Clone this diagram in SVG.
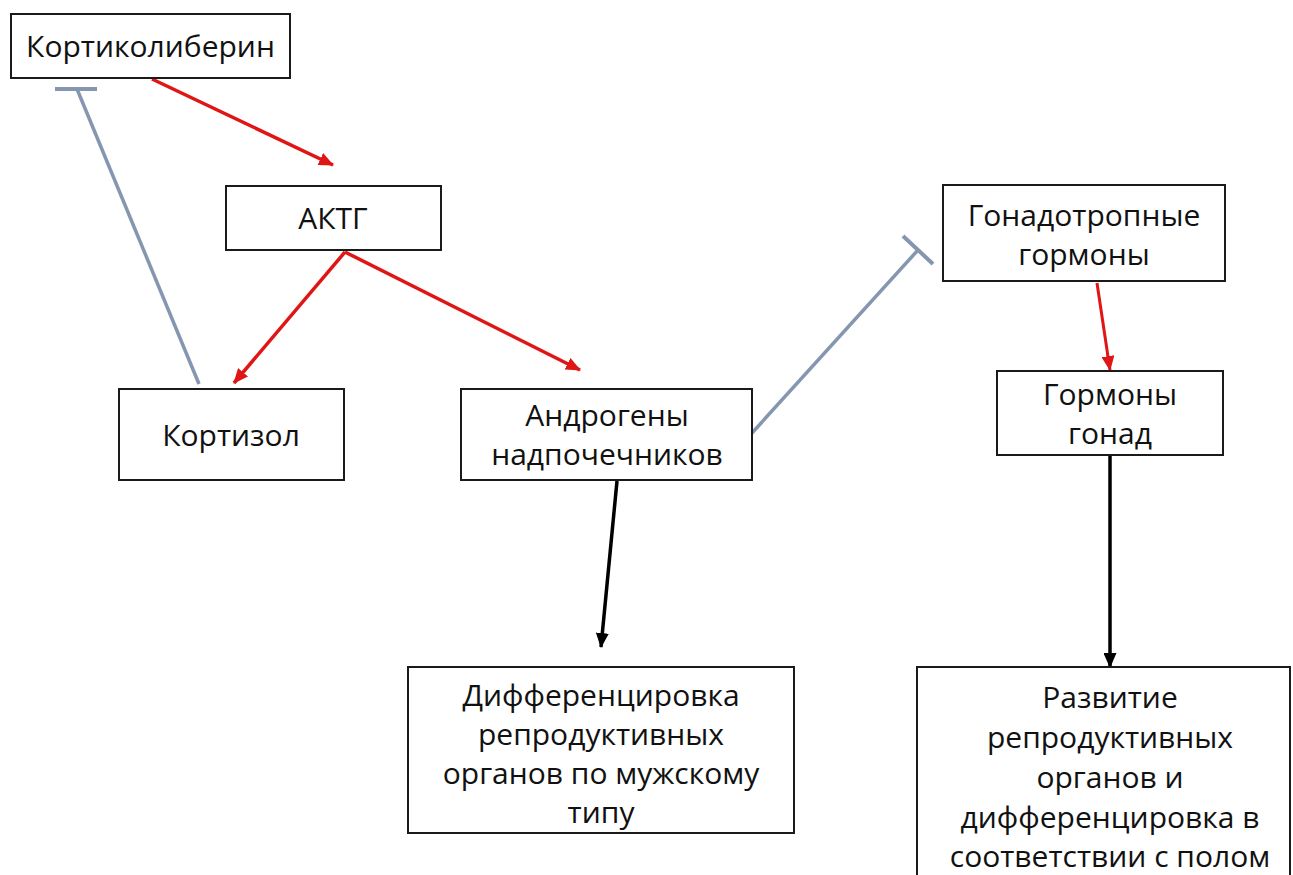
<svg xmlns="http://www.w3.org/2000/svg" width="1293" height="875" viewBox="0 0 1293 875">
<style>
.box{fill:#fff;stroke:#1a1a1a;stroke-width:2}
.t{font-family:"Open Sans","Noto Sans","Liberation Sans",sans-serif;font-size:30px;fill:#111;text-anchor:middle}
.red{stroke:#e01515;stroke-width:3.5;fill:none}
.gray{stroke:#8496b0;stroke-width:3.5;fill:none}
.blk{stroke:#000;stroke-width:3.5;fill:none}
</style>
<defs>
<marker id="ar" markerUnits="userSpaceOnUse" markerWidth="15" markerHeight="13" refX="14" refY="6.5" orient="auto"><path d="M0,0 L15,6.5 L0,13 z" fill="#e01515"/></marker>
<marker id="ak" markerUnits="userSpaceOnUse" markerWidth="15" markerHeight="13" refX="14" refY="6.5" orient="auto"><path d="M0,0 L15,6.5 L0,13 z" fill="#000"/></marker>
</defs>
<rect width="1293" height="875" fill="#fff"/>
<g id="connectors">
<line class="red" x1="152" y1="79" x2="333" y2="165" marker-end="url(#ar)"/>
<line class="red" x1="345" y1="252" x2="234" y2="383" marker-end="url(#ar)"/>
<line class="red" x1="345" y1="252" x2="580" y2="370" marker-end="url(#ar)"/>
<line class="red" x1="1097" y1="283" x2="1110" y2="370" marker-end="url(#ar)" style="stroke-width:3"/>
<line class="gray" x1="199" y1="384" x2="77" y2="89"/>
<line class="gray" x1="55" y1="89" x2="97" y2="89" style="stroke-width:4"/>
<line class="gray" x1="752" y1="433" x2="918" y2="250"/>
<line class="gray" x1="903" y1="236" x2="933" y2="264" style="stroke-width:4"/>
<line class="blk" x1="617" y1="481" x2="601" y2="647" marker-end="url(#ak)"/>
<line class="blk" x1="1110" y1="455" x2="1110" y2="667" marker-end="url(#ak)"/>
</g>
<g id="n-kortikoliberin">
<rect class="box" x="11" y="14" width="279" height="64"/>
<text class="t" x="150.5" y="57">Кортиколиберин</text>
</g>
<g id="n-aktg">
<rect class="box" x="226" y="186" width="215" height="64"/>
<text class="t" x="333" y="229">АКТГ</text>
</g>
<g id="n-kortizol">
<rect class="box" x="119" y="389" width="225" height="91"/>
<text class="t" x="231" y="446">Кортизол</text>
</g>
<g id="n-androgeny">
<rect class="box" x="461" y="389" width="291" height="91"/>
<text class="t" x="607" y="426">Андрогены</text>
<text class="t" x="607" y="465">надпочечников</text>
</g>
<g id="n-gonadotropnye">
<rect class="box" x="943" y="185" width="282" height="96"/>
<text class="t" x="1084" y="226">Гонадотропные</text>
<text class="t" x="1084" y="265">гормоны</text>
</g>
<g id="n-gormony-gonad">
<rect class="box" x="997" y="371" width="226" height="84"/>
<text class="t" x="1110" y="405">Гормоны</text>
<text class="t" x="1110" y="444">гонад</text>
</g>
<g id="n-differentsirovka">
<rect class="box" x="408" y="667" width="386" height="166"/>
<text class="t" x="601" y="706">Дифференцировка</text>
<text class="t" x="601" y="745">репродуктивных</text>
<text class="t" x="601" y="784">органов по мужскому</text>
<text class="t" x="601" y="823">типу</text>
</g>
<g id="n-razvitie">
<rect class="box" x="917" y="667" width="373" height="220"/>
<text class="t" x="1110" y="708">Развитие</text>
<text class="t" x="1110" y="748">репродуктивных</text>
<text class="t" x="1110" y="788">органов и</text>
<text class="t" x="1110" y="828">дифференцировка в</text>
<text class="t" x="1110" y="867">соответствии с полом</text>
</g>
</svg>
